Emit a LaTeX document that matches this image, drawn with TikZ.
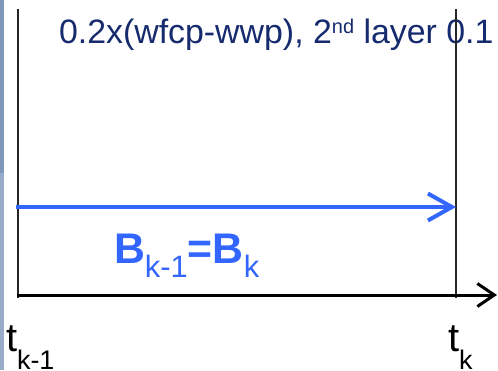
\documentclass[tikz,border=0pt]{standalone}
\usepackage{fontspec}
\setmainfont{Liberation Sans}
\usepackage{xcolor}
\usetikzlibrary{arrows.meta,positioning,calc}

\definecolor{navy}{RGB}{22,42,110}
\definecolor{bblue}{RGB}{51,102,255}
\definecolor{stripdark}{RGB}{127,151,186}
\definecolor{striplight}{RGB}{152,171,203}

\newcommand{\fs}[1]{\fontsize{#1}{#1}\selectfont}

\begin{document}
\begin{tikzpicture}[
    x=1bp, y=-1bp,
    every node/.style={inner sep=0pt, outer sep=0pt},
    epochline/.style={draw=black!85, line width=1.3bp},
    timeaxis/.style={draw=black, line width=3bp,
        -{Straight Barb[length=17bp, width=23bp]}},
    statearrow/.style={draw=bblue, line width=4bp,
        -{Straight Barb[length=24bp, width=27bp]}}
]
    % page and slide strip on the left
    \useasboundingbox (0,0) rectangle (498,370);
    \fill[white] (0,0) rectangle (498,370);
    \fill[stripdark] (0,0) rectangle (4,173);
    \fill[striplight] (0,173) rectangle (4,370);

    % Points - epoch bounds and axis ends
    \coordinate (prevtop) at (18,9);
    \coordinate (prevbot) at (18,298);
    \coordinate (currtop) at (456,9);
    \coordinate (currbot) at (456,298);
    \coordinate (axisstart) at (17,295);
    \coordinate (axisend) at (497,295);
    \coordinate (bstart) at (16,207);
    \coordinate (bend) at (456,207);

    % Labels
    \node[anchor=base west, text=navy, font=\fs{34}] (param) at (59,43)
        {0.2x(wfcp-wwp), 2\raisebox{10bp}{\fs{20}nd} layer 0.1};
    \node[anchor=base west, text=bblue, font=\fs{43}\bfseries] (bstate) at (114,263)
        {B\raisebox{-14bp}{\fs{31}\mdseries k-1}=B\raisebox{-14bp}{\fs{31}\mdseries k}};
    \node[anchor=base west, font=\fs{40}] (tprev) at (6,351)
        {t\raisebox{-18bp}{\fs{27}k-1}};
    \node[anchor=base west, font=\fs{40}] (tcurr) at (448,351)
        {t\raisebox{-18bp}{\fs{27}k}};

    % Epoch bounds
    \draw[epochline] (prevtop) -- (prevbot);
    \draw[epochline] (currtop) -- (currbot);

    % State kept over the epoch, and the time axis
    \draw[statearrow] (bstart) -- (bend);
    \draw[timeaxis] (axisstart) -- (axisend);
\end{tikzpicture}
\end{document}
